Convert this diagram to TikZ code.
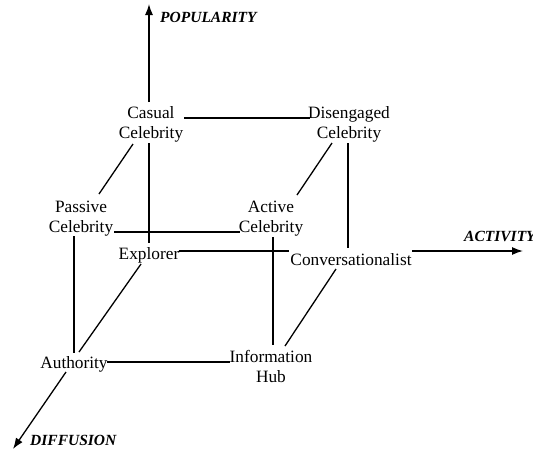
\documentclass[tikz,border=0pt]{standalone}
\usepackage{fontspec}
\setmainfont{Liberation Serif}
\usetikzlibrary{calc,arrows.meta}
\begin{document}
\begin{tikzpicture}[x=1pt,y=-1pt,
  lbl/.style={anchor=base,align=center,inner sep=0pt,font=\fontsize{17.3}{20}\selectfont},
  axl/.style={anchor=base west,inner sep=0pt,font=\fontsize{15.5}{18}\selectfont\bfseries\itshape},
  edge/.style={line width=1.3pt},
  axis/.style={line width=1.3pt,-{Latex[length=11pt,width=8pt]}}]
\useasboundingbox (0,0) rectangle (533,453);
% base anchor = baseline of the last line
\node[lbl] (cas) at (151,138) {Casual\\Celebrity};
\node[lbl] (dis) at (349,138) {Disengaged\\Celebrity};
\node[lbl] (pas) at (81,232) {Passive\\Celebrity};
\node[lbl] (act) at (271,232) {Active\\Celebrity};
\node[lbl] (exp) at (149,259) {Explorer};
\node[lbl] (con) at (351,265) {Conversationalist};
\node[lbl] (aut) at (74,368) {Authority};
\node[lbl] (inf) at (271,382) {Information\\Hub};
\node[axl] (pop) at (160,22) {POPULARITY};
\node[axl] (actl) at (464,241) {ACTIVITY};
\node[axl] (dif) at (30,445) {DIFFUSION};
\coordinate (popend) at (149,4);
\coordinate (actend) at (523,251);
\coordinate (difend) at (13,449);
% axes
\draw[axis] ($(cas.base)+(-2,-36)$) -- (popend);
\draw[axis] ($(con.base)+(61,-14)$) -- (actend);
\draw[axis] ($(aut.base)+(-8,4)$) -- (difend);
% cube edges
\draw[edge] ($(cas.base)+(33,-20)$) -- ($(dis.base)+(-39,-20)$);
\draw[edge] ($(cas.base)+(-2,5)$) -- ($(exp.base)+(0,-16)$);
\draw[edge] ($(cas.base)+(-18,6)$) -- ($(pas.base)+(18,-38)$);
\draw[edge] ($(dis.base)+(-17,5)$) -- ($(act.base)+(26,-37)$);
\draw[edge] ($(dis.base)+(-1,5)$) -- ($(con.base)+(-3,-17)$);
\draw[edge] ($(pas.base)+(33,0)$) -- ($(act.base)+(-31,0)$);
\draw[edge] ($(pas.base)+(-7,4)$) -- ($(aut.base)+(0,-15)$);
\draw[edge] ($(act.base)+(2,5)$) -- ($(inf.base)+(2,-37)$);
\draw[edge] ($(exp.base)+(30,-8)$) -- ($(con.base)+(-62,-14)$);
\draw[edge] ($(exp.base)+(-8,5)$) -- ($(aut.base)+(5,-16)$);
\draw[edge] ($(con.base)+(-15,4)$) -- ($(inf.base)+(14,-36)$);
\draw[edge] ($(aut.base)+(33,-6)$) -- ($(inf.base)+(-41,-20)$);
\end{tikzpicture}
\end{document}
